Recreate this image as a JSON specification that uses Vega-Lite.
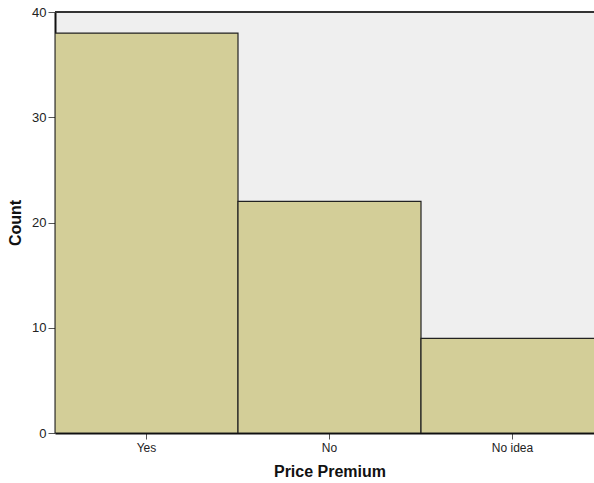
{
  "$schema": "https://vega.github.io/schema/vega-lite/v6.json",
  "autosize": {"type": "none"},
  "padding": {"left": 55, "top": 12, "right": 0, "bottom": 50},
  "width": 539,
  "height": 421,
  "background": "white",
  "config": {
    "font": "Liberation Sans",
    "view": {"fill": "#EFEFEF", "stroke": null},
    "axis": {"grid": false, "labelColor": "#222", "labelFontSize": 12, "tickColor": "#555", "domainColor": "#111", "domainWidth": 2, "titleFontSize": 16, "titleFontWeight": "bold", "titleColor": "#111"}
  },
  "data": {"values": [
    {"premium": "Yes", "count": 38},
    {"premium": "No", "count": 22},
    {"premium": "No idea", "count": 9}
  ]},
  "layer": [
    {
      "mark": {"type": "bar", "fill": "#D3CE98", "stroke": "#222", "strokeWidth": 1.2, "clip": true},
      "encoding": {
        "x": {"field": "premium", "type": "nominal", "sort": ["Yes", "No", "No idea"],
          "scale": {"range": [0, 549], "paddingInner": 0, "paddingOuter": 0},
          "axis": {"title": "Price Premium", "labelAngle": 0, "tickSize": 6, "labelPadding": 3, "titlePadding": 10, "labelFontSize": 12}},
        "y": {"field": "count", "type": "quantitative",
          "scale": {"domain": [0, 40], "nice": false},
          "axis": {"title": "Count", "values": [0, 10, 20, 30, 40], "tickSize": 7, "labelPadding": 2, "titlePadding": 8, "labelFontSize": 13}}
      }
    },
    {
      "mark": {"type": "rule", "color": "#333", "strokeWidth": 2},
      "encoding": {"y": {"datum": 40}}
    }
  ]
}
